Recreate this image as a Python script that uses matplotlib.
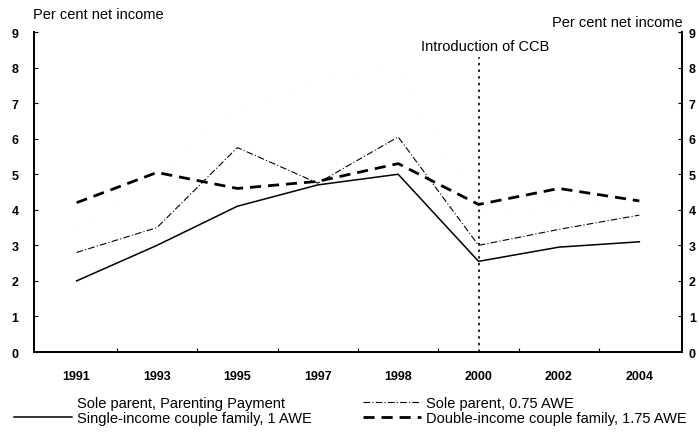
import numpy as np
import matplotlib
matplotlib.use("Agg")
import matplotlib.pyplot as plt
from matplotlib.lines import Line2D

plt.rcParams['font.family'] = ['Liberation Sans', 'DejaVu Sans']

years = ['1991', '1993', '1995', '1997', '1998', '2000', '2002', '2004']
sole_pp = [3.4, 5.1, 6.85, 7.65, 7.95, 3.9, 4.1, 4.4]
sole_075 = [2.8, 3.5, 5.75, 4.75, 6.05, 3.0, 3.45, 3.85]
single_1 = [2.0, 3.0, 4.1, 4.7, 5.0, 2.55, 2.95, 3.1]
double_175 = [4.2, 5.05, 4.6, 4.8, 5.3, 4.15, 4.6, 4.25]
yticks = list(range(10))

x = np.arange(len(years))

fig = plt.figure(figsize=(6.99, 4.35), dpi=100)
ax = fig.add_axes([0.0486, 0.1885, 0.927, 0.7355])

# parenting payment series is almost washed out in the original
l_pp, = ax.plot(x, sole_pp, color='#f0f0f0', lw=0.8, ls=(0, (1, 20)))
l_075, = ax.plot(x, sole_075, color='black', lw=0.8, ls=(0, (6, 2, 1, 2)))
l_1, = ax.plot(x, single_1, color='black', lw=1.1, ls='-')
l_175, = ax.plot(x, double_175, color='black', lw=2.0, ls=(0, (4, 2.5)))

# CCB marker line
ax.plot([5, 5], [0, 8.3], color='black', lw=1.2, ls=(0, (1.5, 2.5)))
ax.text(5.08, 8.4, 'Introduction of CCB', ha='center', va='bottom', fontsize=10.5)

ax.set_xlim(-0.53, 7.53)
ax.set_ylim(0, 9)
ax.set_xticks(x[:-1] + 0.5)
ax.set_xticklabels([])
for xi, lab in zip(x, years):
    ax.text(xi, -0.5, lab, ha='center', va='top', fontsize=9, fontweight='bold')
ax.tick_params(axis='x', direction='in', length=3)

ax.set_yticks(yticks)
ax.set_yticklabels([str(v) for v in yticks], fontsize=9, fontweight='bold')
ax.tick_params(axis='y', direction='in', length=3, pad=11)

ax2 = ax.twinx()
ax2.set_ylim(0, 9)
ax2.set_yticks(yticks)
ax2.set_yticklabels([str(v) for v in yticks], fontsize=9, fontweight='bold')
ax2.tick_params(axis='y', direction='in', length=3, pad=5)

for a in (ax, ax2):
    a.spines['top'].set_visible(False)
    for s in ('left', 'right', 'bottom'):
        a.spines[s].set_linewidth(1.3)

fig.text(0.047, 0.965, 'Per cent net income', fontsize=10.5, ha='left', va='center')
fig.text(0.976, 0.948, 'Per cent net income', fontsize=10.5, ha='right', va='center')

leg_kw = dict(frameon=False, fontsize=10.5, handlelength=4.0, handletextpad=0.3,
              labelspacing=0.05, borderpad=0, borderaxespad=0, loc='upper left')
fig.legend([Line2D([], [], color='none'), l_1],
           ['Sole parent, Parenting Payment', 'Single-income couple family, 1 AWE'],
           bbox_to_anchor=(14 / 699, 1 - 397 / 435), **leg_kw)
fig.legend([l_075, l_175],
           ['Sole parent, 0.75 AWE', 'Double-income couple family, 1.75 AWE'],
           bbox_to_anchor=(363 / 699, 1 - 397 / 435), **leg_kw)

fig.savefig('out.png', dpi=100)
